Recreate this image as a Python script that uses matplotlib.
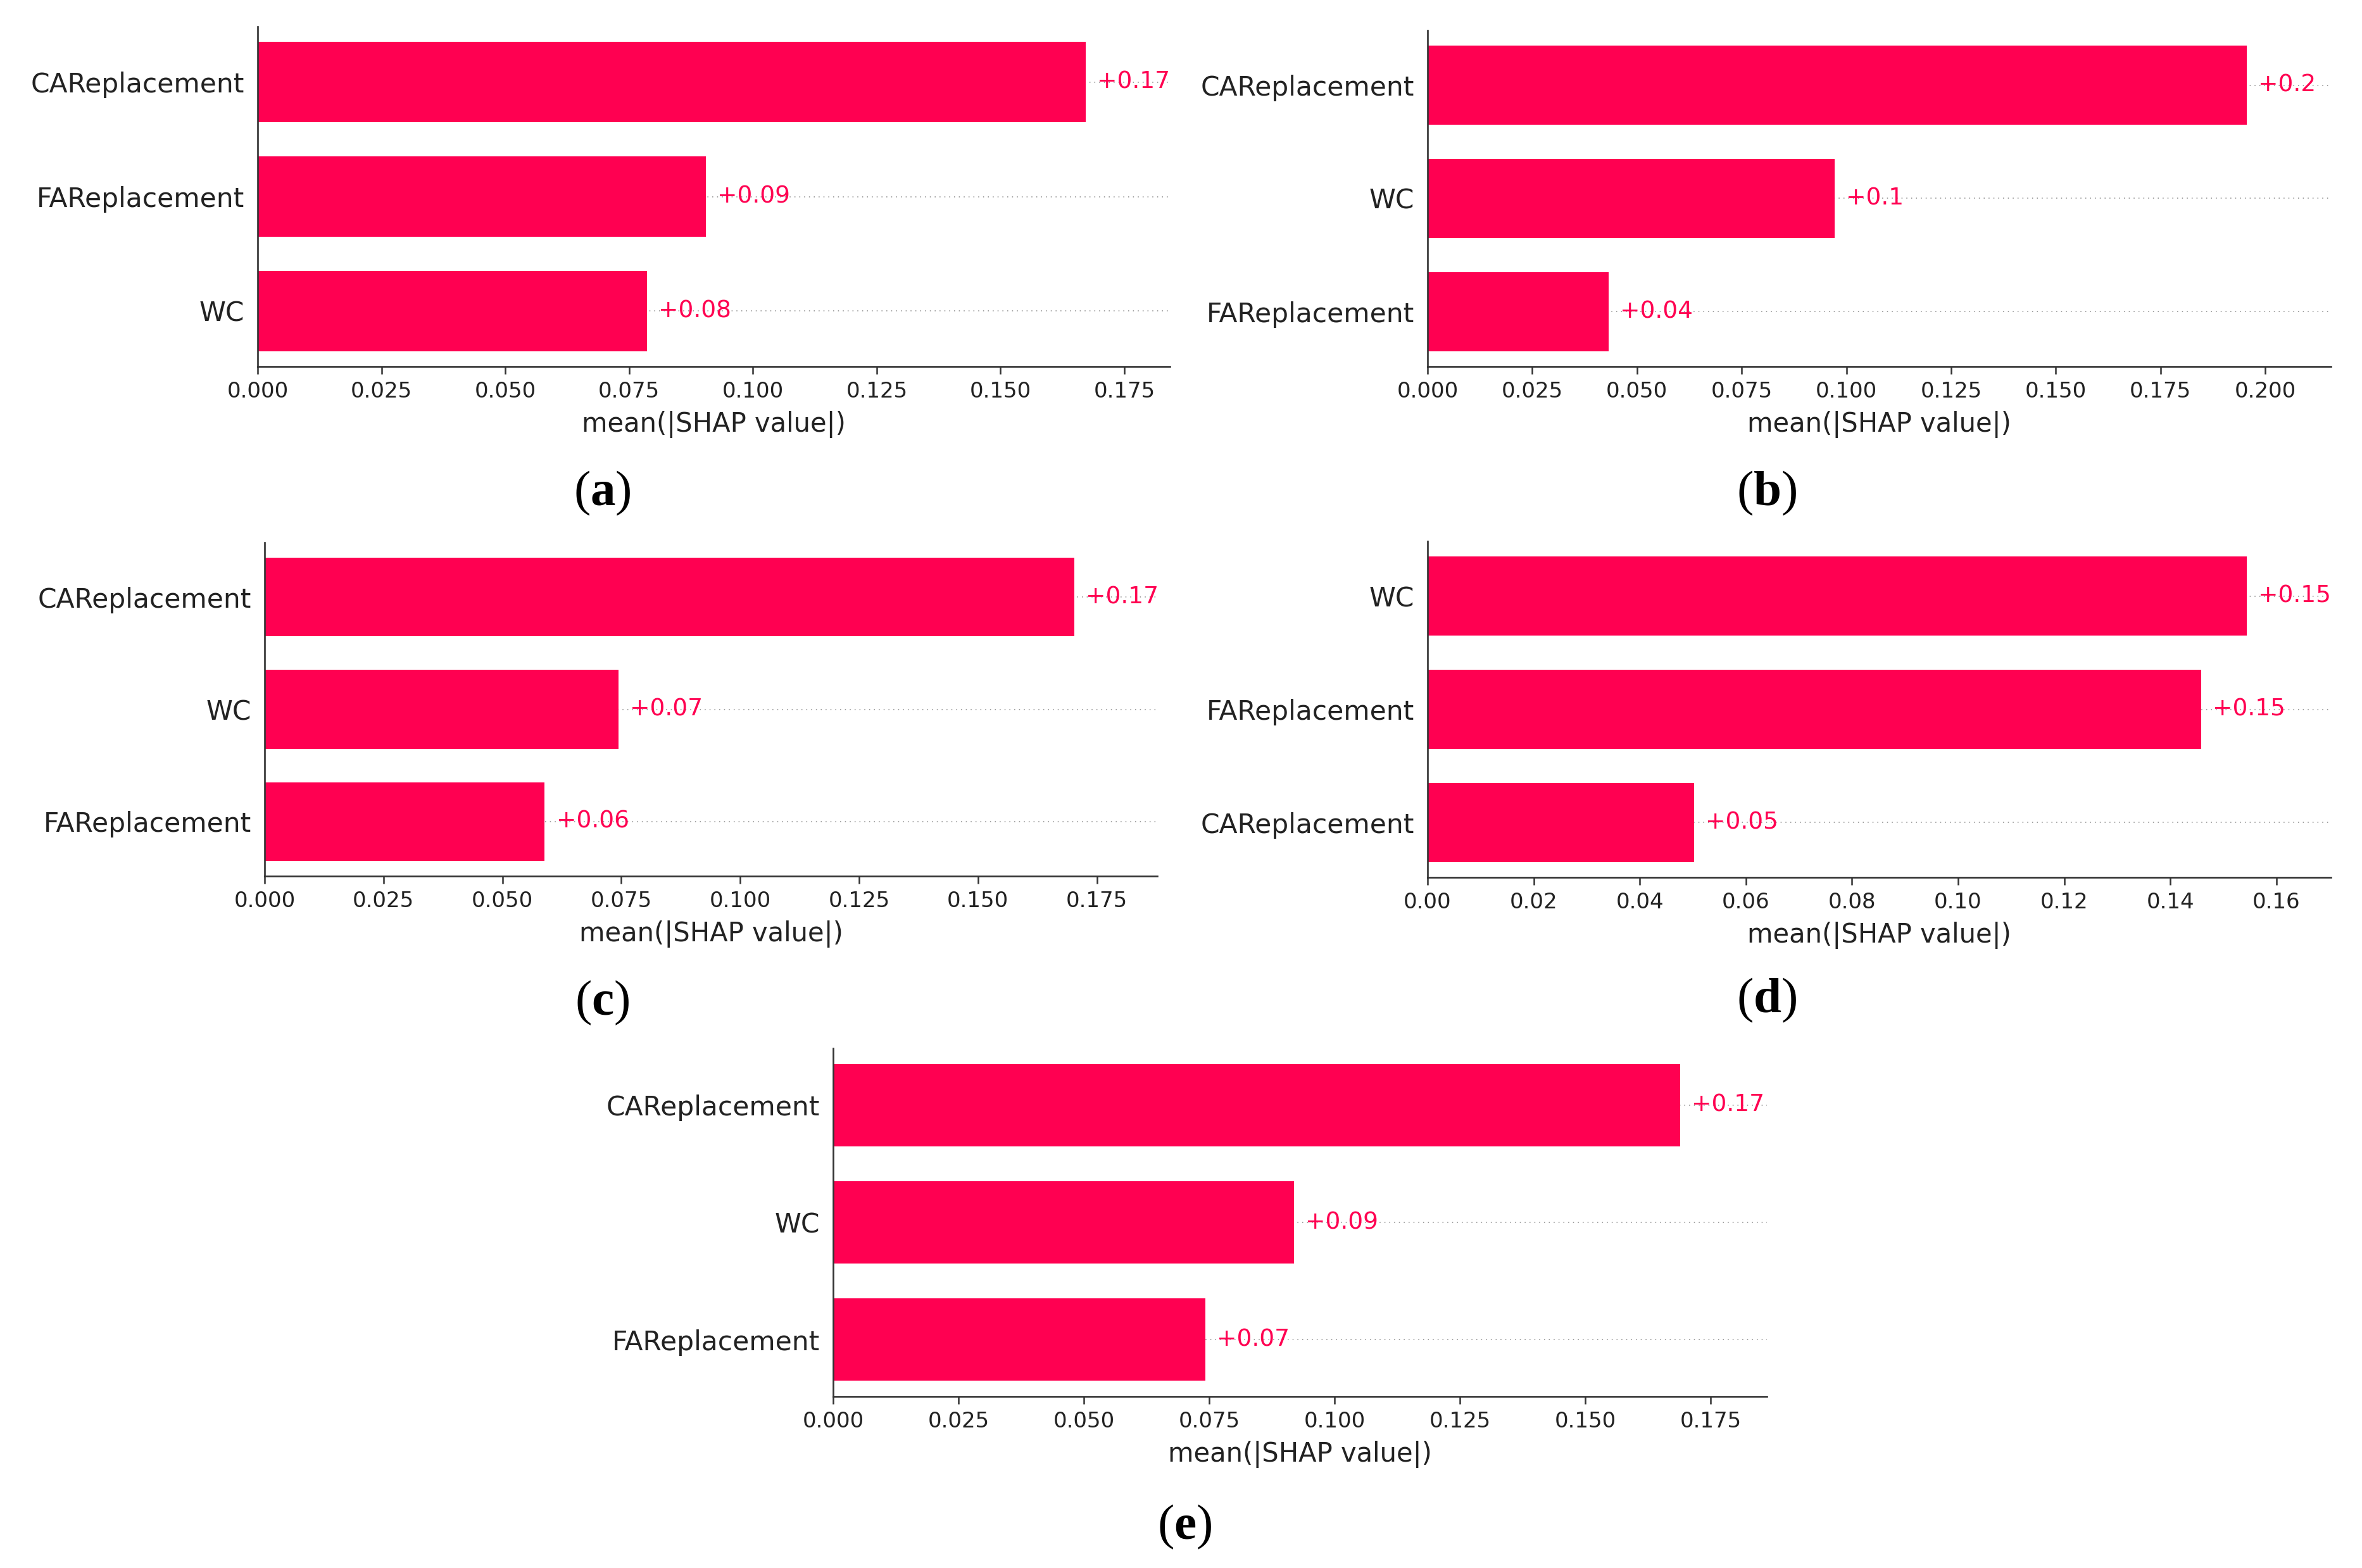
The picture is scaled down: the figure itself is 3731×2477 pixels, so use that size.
import matplotlib
matplotlib.use("Agg")
import matplotlib.pyplot as plt

# mean(|SHAP value|) per feature, top to bottom as shown in each panel
feat_a = ["CAReplacement", "FAReplacement", "WC"]
vals_a = [0.1672, 0.0905, 0.0786]
feat_b = ["CAReplacement", "WC", "FAReplacement"]
vals_b = [0.1956, 0.0972, 0.0432]
feat_c = ["CAReplacement", "WC", "FAReplacement"]
vals_c = [0.1702, 0.0744, 0.0589]
feat_d = ["WC", "FAReplacement", "CAReplacement"]
vals_d = [0.1544, 0.1458, 0.0502]
feat_e = ["CAReplacement", "WC", "FAReplacement"]
vals_e = [0.1689, 0.0919, 0.0742]
panel_tags = ["a", "b", "c", "d", "e"]

W, H = 3731, 2477
RED = "#ff0051"

plt.rcParams["mathtext.fontset"] = "custom"
plt.rcParams["mathtext.rm"] = "Liberation Serif"
plt.rcParams["mathtext.bf"] = "Liberation Serif:bold"

fig = plt.figure(figsize=(W / 100, H / 100), dpi=100)

# pixel boxes: left, right, top, bottom ; xmax ; label centre
layout = [
    (407, 1848, 42, 579, 0.1842, (951, 779)),
    (2255, 3682, 48, 579, 0.2157, (2791, 779)),
    (418, 1828, 857, 1384, 0.1877, (951, 1584)),
    (2255, 3682, 855, 1386, 0.1703, (2791, 1580)),
    (1316, 2791, 1656, 2206, 0.1862, (1871, 2412)),
]
panels = [(feat_a, vals_a), (feat_b, vals_b), (feat_c, vals_c),
          (feat_d, vals_d), (feat_e, vals_e)]

for (feats, vals), (l, r, t, b, xmax, lab), tag in zip(panels, layout, panel_tags):
    ax = fig.add_axes([l / W, 1 - b / H, (r - l) / W, (b - t) / H])
    ypos = list(range(len(feats)))
    ax.barh(ypos, vals, height=0.7, color=RED, zorder=2)
    for y, v in zip(ypos, vals):
        ax.axhline(y, color="#888888", lw=1.1, dashes=(1, 4), zorder=1)
        txt = f"{v:+.2f}".rstrip("0").rstrip(".")
        ax.annotate(txt, xy=(v, y), xytext=(13, 0), textcoords="offset points",
                    ha="left", va="center", color=RED, fontsize=27)
    ax.set_yticks(ypos)
    ax.set_yticklabels(feats, fontsize=30.5, color="#222222")
    ax.set_ylim(len(feats) - 1 + 0.485, -0.485)
    ax.set_xlim(0, xmax)
    ax.spines["top"].set_visible(False)
    ax.spines["right"].set_visible(False)
    for s in ("left", "bottom"):
        ax.spines[s].set_color("#333333")
        ax.spines[s].set_linewidth(1.9)
    ax.tick_params(axis="y", length=0, pad=15)
    ax.tick_params(axis="x", labelsize=24.5, length=8.5, width=1.8,
                   color="#333333", labelcolor="#222222", pad=8)
    ax.set_xlabel("mean(|SHAP value|)", fontsize=30, color="#222222", labelpad=10)
    fig.text(lab[0] / W, 1 - lab[1] / H,
             r"$\mathrm{(}\mathbf{" + tag + r"}\mathrm{)}$",
             fontsize=57, ha="center", va="center")

fig.savefig("out.png", dpi=100, facecolor="white")
